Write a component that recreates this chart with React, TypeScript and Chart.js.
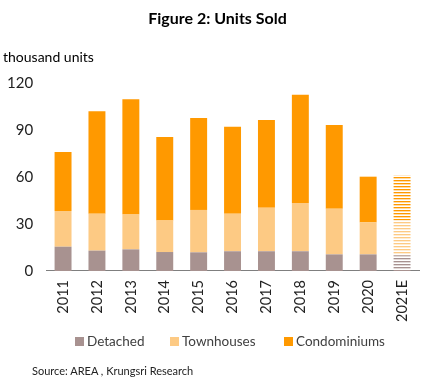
import { useEffect, useRef } from "react";
import { Chart, registerables } from "chart.js";
Chart.register(...registerables);

const years = ["2011", "2012", "2013", "2014", "2015", "2016", "2017", "2018", "2019", "2020", "2021E"];
const detached = [15.5, 13, 13.8, 12.1, 11.9, 12.6, 12.6, 12.6, 10.6, 10.6, 10];
const townhouses = [22.8, 23.6, 22.2, 20.2, 27.1, 24, 27.8, 30.8, 29.2, 20.4, 22.5];
const condos = [37.7, 65.4, 73.6, 53.2, 58.6, 55.4, 56, 69.1, 53.4, 29.2, 28.5];
const yTicks = [0, 30, 60, 90, 120];
const seriesNames = ["Detached", "Townhouses", "Condominiums"];

const COL_DET = "#A89290";
const COL_TOWN = "#FDCA84";
const COL_CONDO = "#FF9900";
const seriesColors = [COL_DET, COL_TOWN, COL_CONDO];
const FONT = "Lato, 'Liberation Sans', sans-serif";

function stripe(color: string): CanvasPattern | string {
  const c = document.createElement("canvas");
  c.width = 4;
  c.height = 3;
  const ctx = c.getContext("2d");
  if (!ctx) return color;
  ctx.fillStyle = "#ffffff";
  ctx.fillRect(0, 0, 4, 3);
  ctx.fillStyle = color;
  ctx.fillRect(0, 0, 4, 1);
  ctx.globalAlpha = 0.35;
  ctx.fillRect(0, 1, 4, 1);
  const p = ctx.createPattern(c, "repeat");
  return p || color;
}

function colors(color: string, n: number) {
  const arr: (string | CanvasPattern)[] = [];
  for (let i = 0; i < n; i++) arr.push(i === n - 1 ? stripe(color) : color);
  return arr;
}

const legendPos = [75, 170, 284];

export default function App() {
  const ref = useRef<HTMLCanvasElement>(null);
  useEffect(() => {
    if (!ref.current) return;
    const chart = new Chart(ref.current, {
      type: "bar",
      data: {
        labels: years,
        datasets: [
          { label: seriesNames[0], data: detached, backgroundColor: colors(COL_DET, years.length) as any },
          { label: seriesNames[1], data: townhouses, backgroundColor: colors(COL_TOWN, years.length) as any },
          { label: seriesNames[2], data: condos, backgroundColor: colors(COL_CONDO, years.length) as any },
        ],
      },
      options: {
        responsive: false,
        animation: false,
        layout: { padding: { top: 83, left: -6, right: 16, bottom: 58 } },
        datasets: { bar: { barPercentage: 0.5, categoryPercentage: 1 } },
        scales: {
          x: {
            stacked: true,
            grid: { display: false, drawTicks: false },
            border: { display: true, color: "#7f7f7f", width: 1 },
            ticks: { color: "#222", font: { family: FONT, size: 14.5 }, minRotation: 90, maxRotation: 90, padding: 9 },
          },
          y: {
            stacked: true,
            min: 0,
            max: 120,
            afterBuildTicks: (axis: any) => {
              axis.ticks = yTicks.map((v) => ({ value: v }));
            },
            grid: { display: false, drawTicks: false },
            border: { display: false },
            ticks: { color: "#222", font: { family: FONT, size: 15 }, padding: 13 },
          },
        },
        plugins: {
          legend: { display: false },
          tooltip: { enabled: false },
        },
      },
    });
    return () => chart.destroy();
  }, []);

  return (
    <div style={{ position: "fixed", left: 0, top: 0, width: 435, height: 389, background: "#fff", overflow: "hidden" }}>
      <canvas ref={ref} width={435} height={389} style={{ position: "absolute", left: 0, top: 0, width: 435, height: 389 }} />
      <div style={{ position: "absolute", top: 8, left: 0, width: 435, textAlign: "center", fontFamily: FONT, fontWeight: 700, fontSize: 16, color: "#000" }}>
        Figure 2: Units Sold
      </div>
      <div style={{ position: "absolute", top: 48, left: 3, fontFamily: FONT, fontSize: 14, color: "#000" }}>thousand units</div>
      {seriesNames.map((name, i) => (
        <div key={name} style={{ position: "absolute", left: legendPos[i], top: 331, height: 20, display: "flex", alignItems: "center", fontFamily: FONT, fontSize: 13.5, color: "#404040", whiteSpace: "nowrap" }}>
          <span style={{ display: "inline-block", width: 9, height: 9, background: seriesColors[i], marginRight: 3 }} />
          {name}
        </div>
      ))}
      <div style={{ position: "absolute", top: 364, left: 32, fontFamily: FONT, fontSize: 11, color: "#222" }}>
        Source: AREA , Krungsri Research
      </div>
    </div>
  );
}
